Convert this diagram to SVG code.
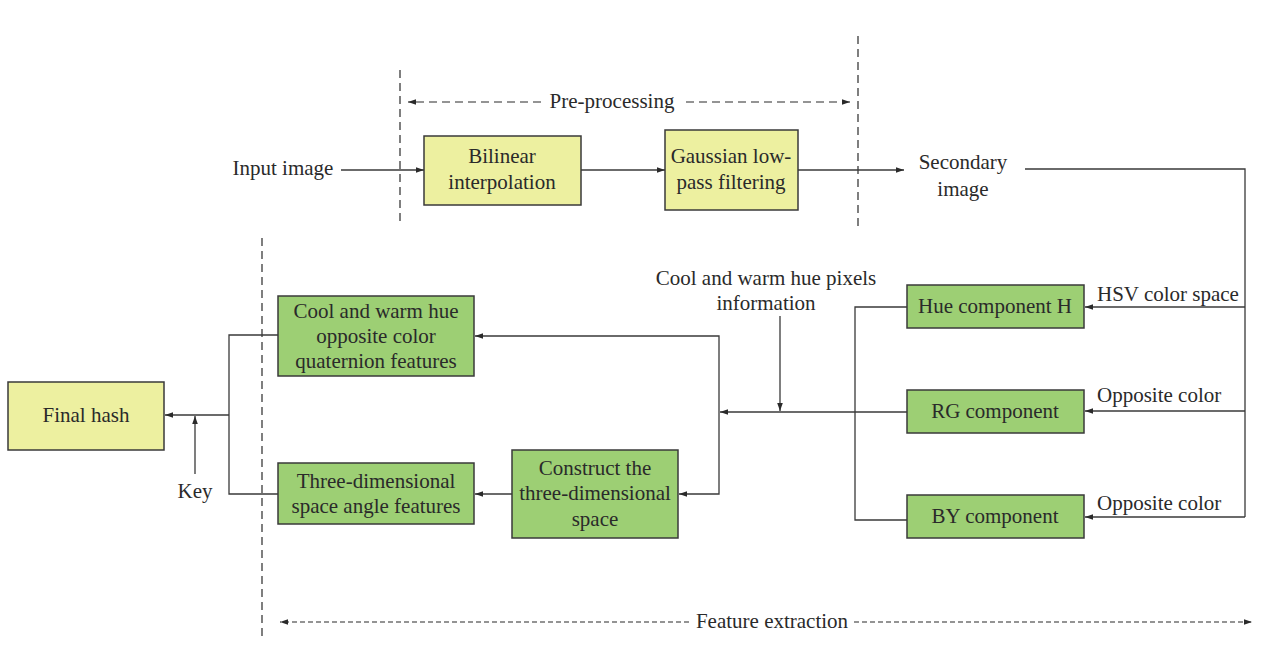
<svg xmlns="http://www.w3.org/2000/svg" width="1264" height="654" viewBox="0 0 1264 654">
<defs>
<marker id="ah" viewBox="0 0 10 10" refX="10" refY="5" markerWidth="8" markerHeight="8" markerUnits="userSpaceOnUse" orient="auto">
<path d="M0,1.5 L10,5 L0,8.5 Z" fill="#2a2a2a"/>
</marker>
<style>
text{font-family:"Liberation Serif","DejaVu Serif",serif;font-size:21px;fill:#2a2a2a;text-anchor:middle}
.y{fill:#edf0a0;stroke:#3a3a3a;stroke-width:1.5}
.g{fill:#9dcf74;stroke:#3a3a3a;stroke-width:1.5}
.c{fill:none;stroke:#3a3a3a;stroke-width:1.3}
.a{marker-end:url(#ah)}
.d{fill:none;stroke:#2a2a2a;stroke-width:1.2;stroke-dasharray:8,5}
.d2{fill:none;stroke:#2a2a2a;stroke-width:1.2;stroke-dasharray:5,3}
.lab{text-anchor:start}
</style>
</defs>
<rect width="1264" height="654" fill="#ffffff"/>

<g id="dividers">
<line class="d" x1="400" y1="70" x2="400" y2="222"/>
<line class="d" x1="858" y1="36" x2="858" y2="226"/>
<line class="d" x1="262" y1="238" x2="262" y2="637"/>
<line class="d a" x1="541" y1="102" x2="408" y2="102"/>
<line class="d a" x1="686" y1="102" x2="850" y2="102"/>
<line class="d2 a" x1="689" y1="622" x2="280" y2="622"/>
<line class="d2 a" x1="854" y1="622" x2="1252" y2="622"/>
<text x="612" y="108">Pre-processing</text>
<text x="772" y="628">Feature extraction</text>
</g>

<g id="connectors">
<line class="c a" x1="341" y1="170" x2="424" y2="170"/>
<line class="c a" x1="581" y1="170" x2="665" y2="170"/>
<line class="c a" x1="798" y1="170" x2="904" y2="170"/>
<polyline class="c" points="1025,169 1245,169 1245,517"/>
<line class="c a" x1="1245" y1="307" x2="1085" y2="307"/>
<line class="c a" x1="1245" y1="411" x2="1085" y2="411"/>
<line class="c a" x1="1245" y1="517" x2="1085" y2="517"/>
<polyline class="c" points="907,307 855,307 855,520 907,520"/>
<line class="c a" x1="907" y1="412" x2="720" y2="412"/>
<line class="c a" x1="780" y1="316" x2="780" y2="411"/>
<polyline class="c a" points="719,412 719,336 475,336"/>
<polyline class="c a" points="719,412 719,494 679,494"/>
<line class="c a" x1="512" y1="494" x2="475" y2="494"/>
<polyline class="c" points="278,335 229,335 229,494 278,494"/>
<line class="c a" x1="229" y1="415" x2="165" y2="415"/>
<line class="c a" x1="195" y1="474" x2="195" y2="416"/>
</g>

<g id="labels">
<text x="283" y="175">Input image</text>
<text x="963" y="169">Secondary</text>
<text x="963" y="196">image</text>
<text x="766" y="285">Cool and warm hue pixels</text>
<text x="766" y="310">information</text>
<text class="lab" x="1097" y="301">HSV color space</text>
<text class="lab" x="1097" y="402">Opposite color</text>
<text class="lab" x="1097" y="510">Opposite color</text>
<text x="195" y="498">Key</text>
</g>

<g id="bilinear">
<rect class="y" x="424" y="136" width="157" height="69"/>
<text x="502" y="163">Bilinear</text>
<text x="502" y="189">interpolation</text>
</g>
<g id="gaussian">
<rect class="y" x="665" y="130" width="133" height="80"/>
<text x="731" y="163">Gaussian low-</text>
<text x="731" y="189">pass filtering</text>
</g>
<g id="final-hash">
<rect class="y" x="8" y="382" width="156" height="68"/>
<text x="86" y="422">Final hash</text>
</g>
<g id="quaternion">
<rect class="g" x="278" y="296" width="196" height="80"/>
<text x="376" y="318">Cool and warm hue</text>
<text x="376" y="343">opposite color</text>
<text x="376" y="368">quaternion features</text>
</g>
<g id="angle">
<rect class="g" x="278" y="463" width="196" height="61"/>
<text x="376" y="488">Three-dimensional</text>
<text x="376" y="513">space angle features</text>
</g>
<g id="construct">
<rect class="g" x="512" y="450" width="166" height="88"/>
<text x="595" y="475">Construct the</text>
<text x="595" y="500">three-dimensional</text>
<text x="595" y="526">space</text>
</g>
<g id="hue">
<rect class="g" x="907" y="285" width="177" height="43"/>
<text x="995" y="313">Hue component H</text>
</g>
<g id="rg">
<rect class="g" x="907" y="390" width="177" height="43"/>
<text x="995" y="418">RG component</text>
</g>
<g id="by">
<rect class="g" x="907" y="495" width="177" height="43"/>
<text x="995" y="523">BY component</text>
</g>
</svg>
